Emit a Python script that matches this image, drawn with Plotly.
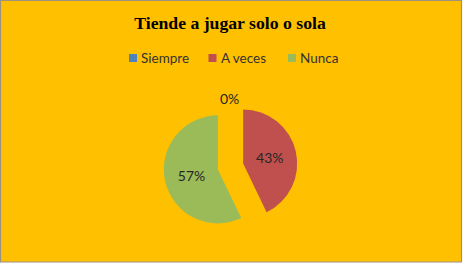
import plotly.graph_objects as go

labels = ["Siempre", "A veces", "Nunca"]
values = [0, 3, 4]
colors = ["#4F81BD", "#C0504D", "#9BBB59"]
title_text = "Tiende a jugar solo o sola"

W, H = 465, 269
total = sum(values)

def px_x(x):
    return x / W

def px_y(y):
    return 1 - y / H

# slice labels: zero slices are labelled separately above the pie
slice_text = [("" if v == 0 else "%{percent:.0%}") for v in values]

fig = go.Figure()
fig.add_trace(go.Pie(
    labels=labels,
    values=values,
    marker=dict(colors=colors, line=dict(width=0)),
    sort=False,
    direction="clockwise",
    rotation=0,
    pull=[0.24, 0.24, 0.24],
    texttemplate=slice_text,
    textposition="inside",
    textfont=dict(family="Lato", size=14, color="#262626"),
    insidetextorientation="horizontal",
    domain=dict(x=[px_x(163.5), px_x(297.5)], y=[px_y(233.5), px_y(99.5)]),
    showlegend=False,
    hoverinfo="skip",
))

fig.add_shape(type="rect", xref="paper", yref="paper",
              x0=px_x(0.5), x1=px_x(461.5), y0=px_y(262), y1=px_y(0.5),
              fillcolor="#FFC000", line=dict(color="#9a9182", width=1.2), layer="below")

# zero-value slice label
for lab, v in zip(labels, values):
    if v == 0:
        fig.add_annotation(text="%d%%" % round(100 * v / total), xref="paper", yref="paper",
                           x=px_x(229), y=px_y(88), showarrow=False,
                           font=dict(family="Lato", size=14, color="#262626"))

# legend drawn manually (Excel style: small square + label)
for i, (lab, col) in enumerate(zip(labels, colors)):
    x0 = 129 + 79.5 * i
    fig.add_shape(type="rect", xref="paper", yref="paper",
                  x0=px_x(x0), x1=px_x(x0 + 8), y0=px_y(62), y1=px_y(54),
                  fillcolor=col, line=dict(width=0))
    fig.add_annotation(text=lab, xref="paper", yref="paper",
                       x=px_x(x0 + 10), y=px_y(58), xanchor="left", yanchor="middle",
                       showarrow=False,
                       font=dict(family="Lato", size=13.5, color="#333333"))

fig.update_layout(
    width=W, height=H,
    margin=dict(l=0, r=0, t=0, b=0),
    paper_bgcolor="white",
    plot_bgcolor="rgba(0,0,0,0)",
    showlegend=False,
    title=dict(text="<b>" + title_text + "</b>", x=px_x(230), xanchor="center",
               y=px_y(23), yanchor="middle",
               font=dict(family="Liberation Serif", size=17.7, color="#000000")),
)

fig.write_html("out.html")
